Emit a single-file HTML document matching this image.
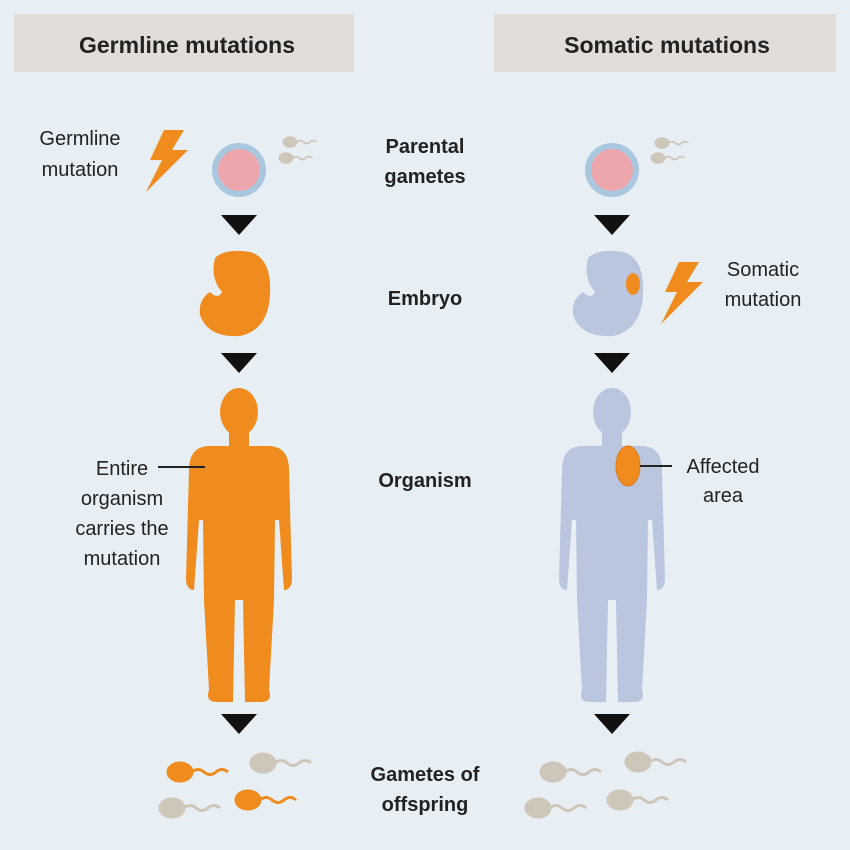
<!DOCTYPE html>
<html><head><meta charset="utf-8"><style>
html,body{margin:0;padding:0;background:#e7eef4;}
svg{display:block;font-family:"Liberation Sans",Arial,sans-serif;}
</style></head><body>
<svg width="850" height="850" viewBox="0 0 850 850" xmlns="http://www.w3.org/2000/svg">
<defs>
<g id="man">
  <ellipse cx="0" cy="412" rx="19" ry="24"/>
  <rect x="-10" y="430" width="20" height="18"/>
  <path d="M-32,446 Q-50,448 -50,470 L-53,580 Q-52,590 -45,590 L-40,520 L-36,520 L-35,600 L-30,690 Q-34,702 -22,702 L-6,702 L-4,600 L4,600 L6,702 L22,702 Q34,702 30,690 L35,600 L36,520 L40,520 L45,590 Q52,590 53,580 L50,470 Q50,448 32,446 Z"/>
</g>
<g id="sperm">
  <ellipse cx="0" cy="0" rx="13" ry="10"/>
  <path d="M12,0 q6,-5 12,0 t12,0 t12,0" fill="none" stroke-width="3"/>
</g>
<g id="arrow"><polygon points="-18,0 18,0 0,20" fill="#111"/></g>
<g id="bolt"><polygon points="16,0 36,0 24,20 40,20 -2,62 14,30 2,30"/></g>
</defs>
<rect width="850" height="850" fill="#e7eef4"/>
<rect x="14" y="14" width="340" height="58" fill="#e2ddd8"/>
<rect x="494" y="14" width="342" height="58" fill="#e2ddd8"/>
<text x="187" y="53" font-size="23" font-weight="bold" text-anchor="middle" fill="#222">Germline mutations</text>
<text x="667" y="53" font-size="23" font-weight="bold" text-anchor="middle" fill="#222">Somatic mutations</text>

<g font-size="20" fill="#222" text-anchor="middle">
<text x="80" y="145">Germline</text><text x="80" y="176">mutation</text>
<text x="122" y="475">Entire</text><text x="122" y="505">organism</text><text x="122" y="535">carries the</text><text x="122" y="565">mutation</text>
<text x="763" y="276">Somatic</text><text x="763" y="306">mutation</text>
<text x="723" y="473">Affected</text><text x="723" y="502">area</text>
</g>
<g font-size="20" font-weight="bold" fill="#222" text-anchor="middle">
<text x="425" y="153">Parental</text><text x="425" y="183">gametes</text>
<text x="425" y="305">Embryo</text>
<text x="425" y="487">Organism</text>
<text x="425" y="781">Gametes of</text><text x="425" y="811">offspring</text>
</g>

<!-- left column -->
<g fill="#f08c1e"><use href="#bolt" transform="translate(148,130)"/></g>
<circle cx="239" cy="170" r="27" fill="#a9c7de"/><circle cx="239" cy="170" r="21" fill="#eea6ad"/>
<g fill="#cdc6b9" stroke="#cdc6b9"><use href="#sperm" transform="translate(290,142) scale(0.55)"/><use href="#sperm" transform="translate(286,158) scale(0.55)"/></g>
<use href="#arrow" transform="translate(239,215)"/>
<path d="M215,258 Q225,248 250,252 Q272,258 270,295 Q268,330 240,336 Q208,338 200,315 Q198,300 210,292 Q218,300 222,292 Q210,278 215,258Z" fill="#f08c1e"/>
<use href="#arrow" transform="translate(239,353)"/>
<g fill="#f08c1e"><use href="#man" transform="translate(239,0)"/></g>
<line x1="158" y1="467" x2="205" y2="467" stroke="#222" stroke-width="2"/>
<use href="#arrow" transform="translate(239,714)"/>
<g fill="#cdc6b9" stroke="#cdc6b9"><use href="#sperm" transform="translate(263,763)"/><use href="#sperm" transform="translate(172,808)"/></g>
<g fill="#f08c1e" stroke="#f08c1e"><use href="#sperm" transform="translate(180,772)"/><use href="#sperm" transform="translate(248,800)"/></g>

<!-- right column -->
<circle cx="612" cy="170" r="27" fill="#a9c7de"/><circle cx="612" cy="170" r="21" fill="#eea6ad"/>
<g fill="#cdc6b9" stroke="#cdc6b9"><use href="#sperm" transform="translate(662,143) scale(0.55)"/><use href="#sperm" transform="translate(658,158) scale(0.55)"/></g>
<use href="#arrow" transform="translate(612,215)"/>
<path d="M588,258 Q598,248 623,252 Q645,258 643,295 Q641,330 613,336 Q581,338 573,315 Q571,300 583,292 Q591,300 595,292 Q583,278 588,258Z" fill="#b9c6de"/>
<ellipse cx="633" cy="284" rx="7" ry="11" fill="#f08c1e"/>
<g fill="#f08c1e"><use href="#bolt" transform="translate(663,262)"/></g>
<use href="#arrow" transform="translate(612,353)"/>
<g fill="#b9c6de"><use href="#man" transform="translate(612,0)"/></g>
<ellipse cx="628" cy="466" rx="12" ry="20" fill="#f08c1e" stroke="#e07818" stroke-width="1"/>
<line x1="640" y1="466" x2="672" y2="466" stroke="#222" stroke-width="2"/>
<use href="#arrow" transform="translate(612,714)"/>
<g fill="#cdc6b9" stroke="#cdc6b9"><use href="#sperm" transform="translate(553,772)"/><use href="#sperm" transform="translate(638,762)"/><use href="#sperm" transform="translate(538,808)"/><use href="#sperm" transform="translate(620,800)"/></g>
</svg>
</body></html>
